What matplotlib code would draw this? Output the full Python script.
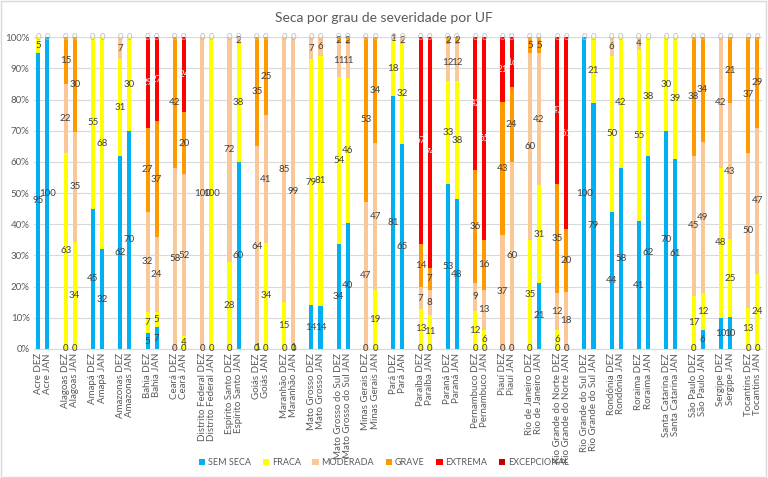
import matplotlib
matplotlib.use("Agg")
import matplotlib.pyplot as plt
import numpy as np
from matplotlib.patches import Rectangle

plt.rcParams["font.family"] = ["Lato", "DejaVu Sans"]

states = ["Acre", "Alagoas", "Amapá", "Amazonas", "Bahia", "Ceará", "Distrito Federal",
          "Espírito Santo", "Goiás", "Maranhão", "Mato Grosso", "Mato Grosso do Sul",
          "Minas Gerais", "Pará", "Paraíba", "Paraná", "Pernambuco", "Piauí",
          "Rio de Janeiro", "Rio Grande do Norte", "Rio Grande do Sul", "Rondônia",
          "Roraima", "Santa Catarina", "São Paulo", "Sergipe", "Tocantins"]
months = ["DEZ", "JAN"]

series_names = ["SEM SECA", "FRACA", "MODERADA", "GRAVE", "EXTREMA", "EXCEPCIONAL"]

sem_seca = [95, 100, 0, 0, 45, 32, 62, 70, 5, 7, 0, 0, 0, 0, 0, 60, 0, 0, 0, 0, 14, 14,
            34, 40, 0, 0, 81, 65, 0, 0, 53, 48, 0, 0, 0, 0, 0, 21, 0, 0, 100, 79, 44, 58,
            41, 62, 70, 61, 0, 6, 10, 10, 0, 0]
fraca = [5, 0, 63, 34, 55, 68, 31, 30, 7, 5, 0, 4, 0, 100, 28, 38, 1, 34, 15, 1, 79, 81,
         54, 46, 0, 19, 18, 32, 13, 11, 33, 38, 12, 6, 0, 0, 35, 31, 6, 0, 0, 21, 50, 42,
         55, 38, 30, 39, 17, 12, 48, 25, 13, 24]
moderada = [0, 0, 22, 35, 0, 0, 7, 0, 32, 24, 58, 52, 100, 0, 72, 2, 64, 41, 85, 99, 7, 6,
            11, 11, 47, 47, 1, 2, 7, 8, 12, 12, 9, 13, 37, 60, 60, 42, 12, 18, 0, 0, 6, 0,
            4, 0, 0, 0, 45, 49, 42, 43, 50, 47]
grave = [0, 0, 15, 30, 0, 0, 0, 0, 27, 37, 42, 20, 0, 0, 0, 0, 35, 25, 0, 0, 0, 0,
         2, 2, 53, 34, 0, 0, 14, 7, 2, 2, 36, 16, 43, 24, 5, 5, 35, 20, 0, 0, 0, 0,
         0, 0, 0, 0, 38, 34, 0, 21, 37, 29]
extrema = [0, 0, 0, 0, 0, 0, 0, 0, 29, 27, 0, 24, 0, 0, 0, 0, 0, 0, 0, 0, 0, 0,
           0, 0, 0, 0, 0, 0, 67, 74, 0, 0, 42, 65, 21, 16, 0, 0, 47, 61, 0, 0, 0, 0,
           0, 0, 0, 0, 0, 0, 0, 0, 0, 0]
excepcional = [0] * 54

colors = ["#00B0F0", "#FFFF00", "#FAC796", "#FF9900", "#FF0000", "#C00000"]
label_colors = ["#404040", "#404040", "#404040", "#404040", "#F2F2F2", "#F2F2F2"]

data = np.array([sem_seca, fraca, moderada, grave, extrema, excepcional], dtype=float)
totals = data.sum(axis=0)
pct = data / totals * 100.0

labels = [f"{s} {m}" for s in states for m in months]
xpos = np.array([3 * i + j for i in range(len(states)) for j in range(2)])

fig = plt.figure(figsize=(7.68, 4.78), dpi=100)
ax = fig.add_axes([0.044, 0.27, 0.948, 0.652])

bottom = np.zeros(len(labels))
for k, name in enumerate(series_names):
    ax.bar(xpos, pct[k], width=0.45, bottom=bottom, color=colors[k], label=name, zorder=2)
    for i in range(len(labels)):
        v = data[k][i]
        yc = bottom[i] + pct[k][i] / 2
        show = v != 0 or k == 0 or k == len(series_names) - 1
        if show:
            col = label_colors[k]
            if v == 0 and k == len(series_names) - 1:
                col = "#BFBFBF"
            ax.text(xpos[i], yc, f"{int(v)}", ha="center", va="center",
                    fontsize=7, color=col, zorder=3)
    bottom += pct[k]

ax.set_xlim(-0.5, 79.5)
ax.set_ylim(0, 100)
ax.set_yticks(np.arange(0, 101, 10))
ax.set_yticklabels([f"{t}%" for t in range(0, 101, 10)], fontsize=7, color="#595959")
ax.set_xticks(xpos)
ax.set_xticklabels(labels, rotation=90, fontsize=7, color="#595959")
ax.tick_params(axis="both", length=0, pad=3)
ax.grid(axis="y", color="#D9D9D9", linewidth=0.8, zorder=0)
ax.set_axisbelow(True)
for s in ["top", "right", "left"]:
    ax.spines[s].set_visible(False)
ax.spines["bottom"].set_color("#D9D9D9")

fig.suptitle("Seca por grau de severidade por UF", y=0.975, fontsize=10, color="#595959")

leg = fig.legend(loc="center", bbox_to_anchor=(0.5, 0.032), ncol=6, frameon=False,
                 fontsize=6.5, handlelength=0.7, handleheight=0.7, handletextpad=0.3,
                 columnspacing=1.3)
for t in leg.get_texts():
    t.set_color("#595959")

fig.patches.append(Rectangle((0.001, 0.002), 0.997, 0.995, transform=fig.transFigure,
                             fill=False, edgecolor="#D9D9D9", linewidth=1))

fig.savefig("out.png", dpi=100)
